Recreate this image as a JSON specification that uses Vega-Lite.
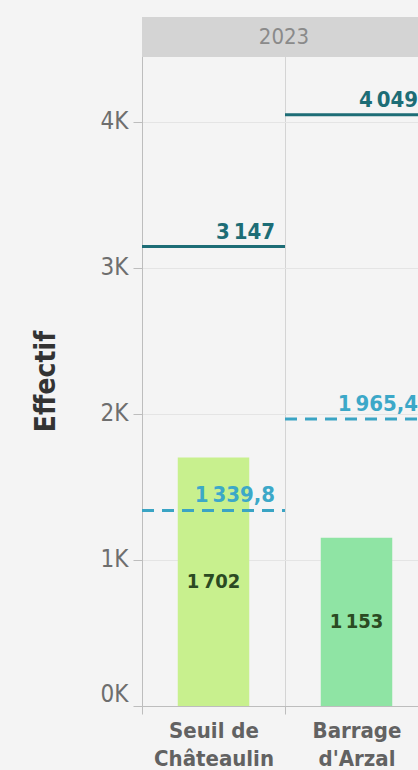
{
  "$schema": "https://vega.github.io/schema/vega-lite/v6.json",
  "width": 276,
  "height": 689,
  "autosize": {"type": "none"},
  "padding": {"left": 142, "top": 17, "right": 0, "bottom": 64},
  "background": "#f4f4f4",
  "config": {
    "view": {"stroke": null},
    "font": "DejaVu Sans Condensed",
    "locale": {"number": {"decimal": ",", "thousands": "\u202f", "grouping": [3], "currency": ["", " €"]}}
  },
  "data": {
    "values": [
      {"site": "Seuil de Châteaulin", "annee": "2023", "effectif": 1702, "maximum": 3147, "moyenne": 1339.8},
      {"site": "Barrage d'Arzal", "annee": "2023", "effectif": 1153, "maximum": 4049, "moyenne": 1965.4}
    ]
  },
  "layer": [
    {
      "layer": [
        {
          "mark": {"type": "bar", "width": {"band": 0.5}},
          "encoding": {
            "x": {
              "field": "site", "type": "nominal", "sort": null, "title": null,
              "scale": {"type": "band", "paddingInner": 0, "paddingOuter": 0, "range": [0, 286]},
              "axis": {
                "zindex": 0,
                "labelAngle": 0, "tickBand": "extent", "grid": true, "gridColor": "#d4d4d4",
                "domainColor": "#bdbdbd", "tickColor": "#bdbdbd", "tickSize": 8,
                "labelFont": "DejaVu Sans Condensed", "labelFontWeight": "bold", "labelFontSize": 22, "labelColor": "#626262",
                "labelPadding": 6, "labelLineHeight": 28, "labelBaseline": "top",
                "labelExpr": "[substring(datum.label, 0, lastindexof(datum.label, ' ')), substring(datum.label, lastindexof(datum.label, ' ') + 1)]"
              }
            },
            "y": {
              "field": "effectif", "type": "quantitative", "title": "Effectif",
              "scale": {"domain": [0, 4719], "nice": false, "zero": true},
              "axis": {
                "zindex": 0,
                "values": [0, 1000, 2000, 3000, 4000],
                "labelExpr": "datum.value / 1000 + 'K'",
                "labelFlush": true,
                "grid": true, "gridColor": "#e4e4e4",
                "domainColor": "#bdbdbd", "tickColor": "#bdbdbd", "tickSize": 9,
                "labelFont": "DejaVu Sans Condensed", "labelFontSize": 24, "labelColor": "#6e6e6e", "labelPadding": 5,
                "titleFont": "DejaVu Sans Condensed", "titleFontSize": 28, "titleFontWeight": "bold", "titleColor": "#333333",
                "titlePadding": 40, "titleY": 364
              }
            },
            "color": {
              "field": "site", "type": "nominal", "legend": null,
              "scale": {"domain": ["Seuil de Châteaulin", "Barrage d'Arzal"], "range": ["#c8f08e", "#8fe4a4"]}
            }
          }
        },
        {
          "mark": {"type": "rule", "color": "#1d6d76", "strokeWidth": 3},
          "encoding": {
            "x": {"field": "site", "type": "nominal", "sort": null, "bandPosition": 0},
            "x2": {"field": "site", "bandPosition": 1},
            "y": {"field": "maximum", "type": "quantitative"}
          }
        },
        {
          "mark": {"type": "rule", "color": "#3aa4c4", "strokeWidth": 3, "strokeDash": [12, 8]},
          "encoding": {
            "x": {"field": "site", "type": "nominal", "sort": null, "bandPosition": 0},
            "x2": {"field": "site", "bandPosition": 1},
            "y": {"field": "moyenne", "type": "quantitative"}
          }
        },
        {
          "mark": {"type": "text", "align": "right", "baseline": "alphabetic", "dx": -10, "dy": -8, "fontSize": 22, "fontWeight": "bold", "color": "#1d6d76"},
          "encoding": {
            "x": {"field": "site", "type": "nominal", "sort": null, "bandPosition": 1},
            "y": {"field": "maximum", "type": "quantitative"},
            "text": {"field": "maximum", "type": "quantitative", "format": ",d"}
          }
        },
        {
          "mark": {"type": "text", "align": "right", "baseline": "alphabetic", "dx": -10, "dy": -8, "fontSize": 22, "fontWeight": "bold", "color": "#3ca8c8"},
          "encoding": {
            "x": {"field": "site", "type": "nominal", "sort": null, "bandPosition": 1},
            "y": {"field": "moyenne", "type": "quantitative"},
            "text": {"field": "moyenne", "type": "quantitative", "format": ",.1f"}
          }
        },
        {
          "data": {"values": [{"annee": "2023"}]},
          "mark": {"type": "rect", "color": "#d4d4d4"},
          "encoding": {
            "y": {"datum": 4445, "type": "quantitative"},
            "y2": {"datum": 4719}
          }
        },
        {
          "data": {"values": [{"annee": "2023"}]},
          "mark": {"type": "text", "fontSize": 22, "color": "#8a8a8a", "baseline": "middle", "dx": 4},
          "encoding": {
            "y": {"datum": 4582, "type": "quantitative"},
            "text": {"field": "annee", "type": "nominal"}
          }
        }
      ]
    },
    {
      "mark": {"type": "text", "fontSize": 20, "fontWeight": "bold", "color": "#2b4a22", "baseline": "middle"},
      "encoding": {
        "x": {"field": "site", "type": "nominal", "sort": null},
        "y": {"field": "effectif", "type": "quantitative", "scale": {"domain": [0, 9438], "nice": false, "zero": true}, "axis": null},
        "text": {"field": "effectif", "type": "quantitative", "format": ",d"}
      }
    }
  ],
  "resolve": {"scale": {"y": "independent"}}
}
